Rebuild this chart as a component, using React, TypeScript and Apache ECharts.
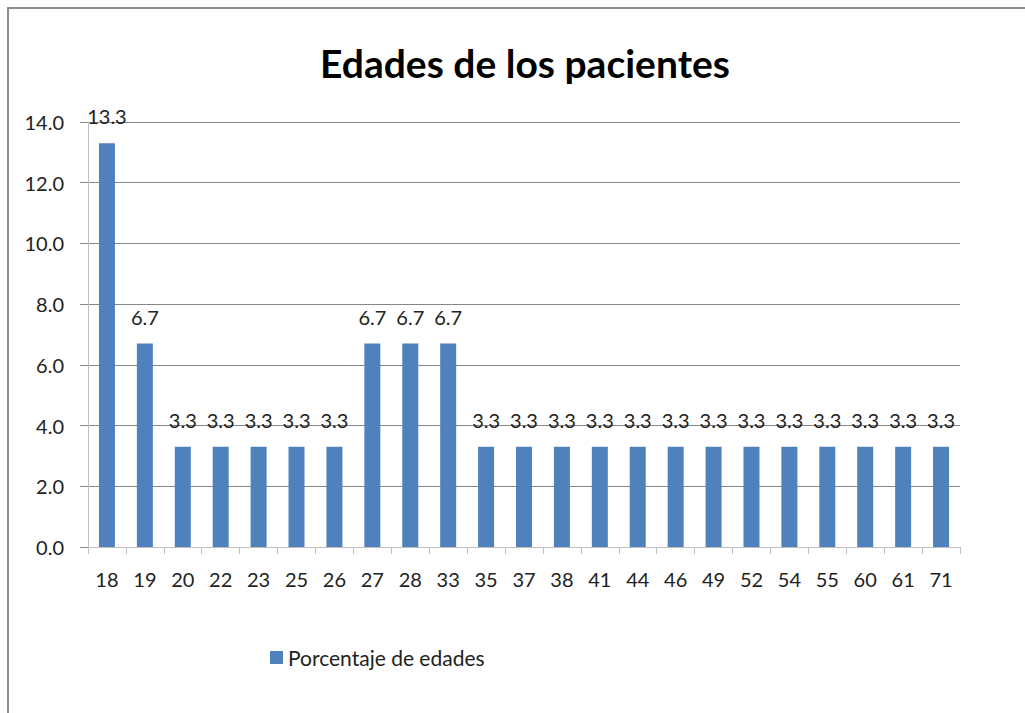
import React, { useEffect, useRef } from "react";
import * as echarts from "echarts";

const ages = ["18", "19", "20", "22", "23", "25", "26", "27", "28", "33", "35", "37", "38", "41", "44", "46", "49", "52", "54", "55", "60", "61", "71"];
const percentages = [13.3, 6.7, 3.3, 3.3, 3.3, 3.3, 3.3, 6.7, 6.7, 6.7, 3.3, 3.3, 3.3, 3.3, 3.3, 3.3, 3.3, 3.3, 3.3, 3.3, 3.3, 3.3, 3.3];
const seriesName = "Porcentaje de edades";
const titleText = "Edades de los pacientes";

const FONT = "Lato, 'Liberation Sans', sans-serif";

export default function App() {
  const ref = useRef<HTMLDivElement>(null);
  useEffect(() => {
    if (!ref.current) return;
    const chart = echarts.init(ref.current, null, { renderer: "svg" });
    chart.setOption({
      animation: false,
      backgroundColor: "#ffffff",
      title: {
        text: titleText,
        left: 520,
        textAlign: "center",
        top: 38,
        textStyle: { fontFamily: FONT, fontSize: 39, fontWeight: "bold", color: "#000" },
      },
      legend: {
        left: 265,
        top: 642,
        itemWidth: 13,
        itemHeight: 13,
        itemGap: 6,
        icon: "rect",
        textStyle: { fontFamily: FONT, fontSize: 21, color: "#222" },
        data: [seriesName],
      },
      grid: { left: 88, right: 65, top: 122, bottom: 166, containLabel: false },
      xAxis: {
        type: "category",
        data: ages,
        boundaryGap: true,
        axisLine: { lineStyle: { color: "#bfbfbf", width: 1 } },
        axisTick: { show: true, alignWithLabel: false, length: 7, lineStyle: { color: "#bfbfbf" } },
        axisLabel: { fontFamily: FONT, fontSize: 20, color: "#222", margin: 22, interval: 0 },
      },
      yAxis: {
        type: "value",
        min: 0,
        max: 14,
        interval: 2,
        axisLine: { show: true, lineStyle: { color: "#bfbfbf" } },
        axisTick: { show: true, length: 8, lineStyle: { color: "#868686" } },
        splitLine: { show: true, lineStyle: { color: "#868686", width: 1 } },
        axisLabel: {
          fontFamily: FONT,
          fontSize: 20,
          color: "#222",
          margin: 24,
          formatter: (v: number) => v.toFixed(1),
        },
      },
      series: [
        {
          name: seriesName,
          type: "bar",
          data: percentages,
          barWidth: 16,
          itemStyle: { color: "#4f81bd" },
          label: {
            show: true,
            position: "top",
            distance: 17,
            fontFamily: FONT,
            fontSize: 20,
            color: "#222",
            formatter: (p: any) => Number(p.value).toFixed(1),
          },
        },
      ],
      graphic: [
        {
          type: "rect",
          shape: { x: 8, y: 8, width: 1040, height: 740 },
          style: { fill: "none", stroke: "#8c8c8c", lineWidth: 2 },
          silent: true,
        },
      ],
    });
    return () => chart.dispose();
  }, []);
  return <div ref={ref} style={{ position: "fixed", left: 0, top: 0, width: 1025, height: 713 }} />;
}
